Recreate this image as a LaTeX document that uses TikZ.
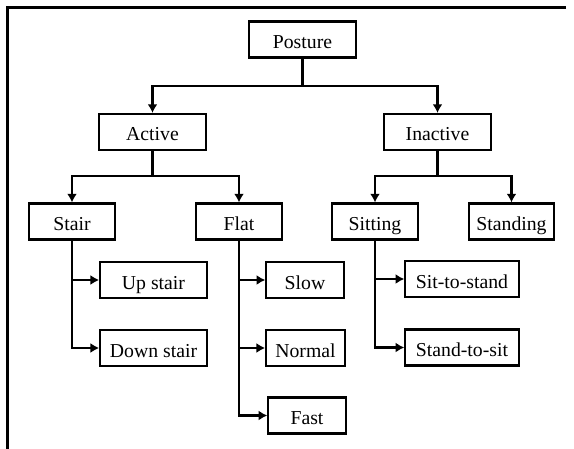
\documentclass[tikz,border=0pt]{standalone}
\usepackage{fontspec}
\setmainfont{Liberation Serif}
\usetikzlibrary{arrows.meta}

\begin{document}
\begin{tikzpicture}[
            > = {Latex[length=6.5pt,width=7.5pt]}, % arrow head style
            x = 0.75pt, y = -0.75pt, % one unit is one pixel of the sketch
            line width = 2.1pt%,
            %thick % line style
        ]

        \tikzstyle{box}=[
            draw = black,
            line width = 1.6pt,
            fill = white,
            inner sep = 0pt,
            minimum height = 27pt,
            text height = 13.5pt,
            text depth = 0pt,
            font = \fontsize{14.8}{17}\selectfont
        ]

        \useasboundingbox (0,0) rectangle (574,449);
        \draw[line width = 1.6pt] (566,7.5) -- (7.5,7.5) -- (7.5,449);

        \node[box, minimum width = 80pt] (posture)    at ( 302.5 ,  39.5 ) {Posture};
        \node[box, minimum width = 80pt] (active)     at ( 152.5 , 132   ) {Active};
        \node[box, minimum width = 80pt] (inactive)   at ( 437.5 , 132   ) {Inactive};
        \node[box, minimum width = 64pt] (stair)      at (  72   , 221.5 ) {Stair};
        \node[box, minimum width = 64pt] (flat)       at ( 239   , 221.5 ) {Flat};
        \node[box, minimum width = 64pt] (sitting)    at ( 375   , 221.5 ) {Sitting};
        \node[box, minimum width = 64pt] (standing)   at ( 511.5 , 221.5 ) {Standing};
        \node[box, minimum width = 80pt] (upstair)    at ( 153.5 , 280   ) {Up stair};
        \node[box, minimum width = 80pt] (downstair)  at ( 153.5 , 348   ) {Down stair};
        \node[box, minimum width = 58pt] (slow)       at ( 305   , 280   ) {Slow};
        \node[box, minimum width = 59pt] (normal)     at ( 305.5 , 348   ) {Normal};
        \node[box, minimum width = 58pt] (fast)       at ( 307   , 415.5 ) {Fast};
        \node[box, minimum width = 85pt] (sitstand)   at ( 462   , 279   ) {Sit-to-stand};
        \node[box, minimum width = 85pt] (standsit)   at ( 462   , 347.5 ) {Stand-to-sit};

        % bus points under the parents
        \coordinate (pbus) at ( 302.5 ,  86 );
        \coordinate (abus) at ( 152.5 , 176 );
        \coordinate (ibus) at ( 437.5 , 176 );

        \draw (posture) -- (pbus);
        \draw[->] (pbus) -| (active);
        \draw[->] (pbus) -| (inactive);
        \draw (active) -- (abus);
        \draw[->] (abus) -| (stair);
        \draw[->] (abus) -| (flat);
        \draw (inactive) -- (ibus);
        \draw[->] (ibus) -| (sitting);
        \draw[->] (ibus) -| (standing);

        \draw[->] (stair)   |- (upstair);
        \draw[->] (stair)   |- (downstair);
        \draw[->] (flat)    |- (slow);
        \draw[->] (flat)    |- (normal);
        \draw[->] (flat)    |- (fast);
        \draw[->] (sitting) |- (sitstand);
        \draw[->] (sitting) |- (standsit);

    \end{tikzpicture}
\end{document}
